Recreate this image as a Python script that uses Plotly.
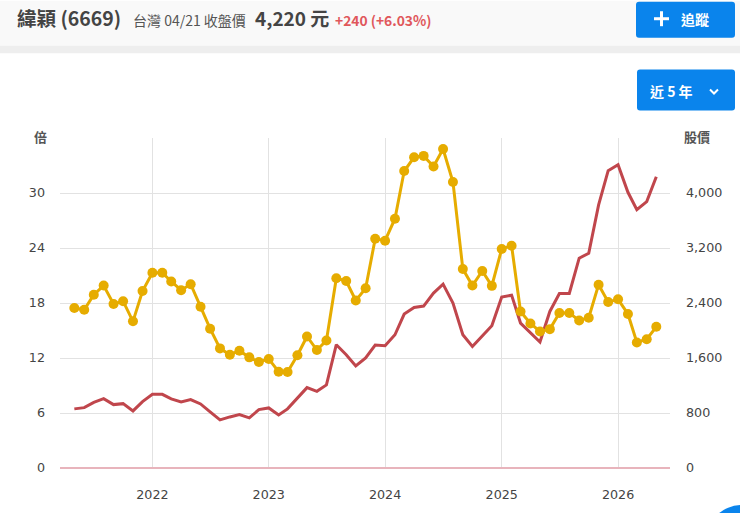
import pandas as pd
import plotly.graph_objects as go

months = pd.date_range("2021-05-01", "2026-05-01", freq="MS")

# 本益比 (倍)
pe_values = [17.45, 17.26, 18.9, 19.9, 17.9, 18.2, 16.0, 19.3,
             21.3, 21.3, 20.35, 19.4, 20.05, 17.6, 15.2, 13.05, 12.36, 12.8, 12.07, 11.56,
             11.9, 10.5, 10.47, 12.3, 14.35, 12.87, 13.9, 20.7, 20.4, 18.27, 19.6, 25.0,
             24.8, 27.2, 32.4, 33.9, 34.05, 32.9, 34.8, 31.2, 21.7, 19.9, 21.5, 19.87,
             23.9, 24.25, 17.07, 15.77, 14.9, 15.15, 16.9, 16.9, 16.1, 16.4, 20.0, 18.1,
             18.4, 16.8, 13.7, 14.05, 15.4]

# 股價
price_values = [860, 878, 955, 1009, 922, 936, 830, 966,
                1072, 1072, 1005, 961, 995, 932, 816, 700, 743, 777, 729, 849,
                874, 772, 860, 1009, 1169, 1115, 1208, 1793, 1648, 1484, 1600, 1789,
                1779, 1938, 2239, 2335, 2355, 2544, 2674, 2399, 1938, 1768, 1914, 2069,
                2486, 2514, 2108, 1963, 1832, 2277, 2538, 2538, 3052, 3124, 3826, 4324,
                4411, 4010, 3758, 3874, 4237]

pe_ticks = [0, 6, 12, 18, 24, 30, 36]
pe_labels = ["0", "6", "12", "18", "24", "30", ""]
price_ticks = [0, 800, 1600, 2400, 3200, 4000, 4800]
price_labels = ["0", "800", "1,600", "2,400", "3,200", "4,000", ""]
year_ticks = ["2022-01-01", "2023-01-01", "2024-01-01", "2025-01-01", "2026-01-01"]
year_labels = ["2022", "2023", "2024", "2025", "2026"]

CJK = "Noto Sans CJK TC"
TICK_FONT = dict(family="DejaVu Sans", size=12.7, color="#444444")
BLUE = "#0a84ec"
GRID = "#e2e2e2"

L, R, T, B = 60, 670, 137.6, 468.5


def px(x):
    return (x - L) / (R - L)


def py(y):
    return (B - y) / (B - T)


def label(x, y, text, size, color, bold=False, anchor="left", family=CJK):
    if bold:
        text = "<b>" + text + "</b>"
    fig.add_annotation(x=px(x), y=py(y), xref="paper", yref="paper", text=text, showarrow=False,
                       xanchor=anchor, yanchor="middle", align=anchor,
                       font=dict(family=family, size=size, color=color))


def box(x0, y0, x1, y1, color):
    fig.add_shape(type="rect", xref="paper", yref="paper", x0=px(x0), x1=px(x1), y0=py(y0), y1=py(y1),
                  fillcolor=color, line_width=0, layer="below")


def button(x0, y0, x1, y1):
    r = 3
    path = (f"M {px(x0 + r)} {py(y0)} L {px(x1 - r)} {py(y0)} Q {px(x1)} {py(y0)} {px(x1)} {py(y0 + r)} "
            f"L {px(x1)} {py(y1 - r)} Q {px(x1)} {py(y1)} {px(x1 - r)} {py(y1)} "
            f"L {px(x0 + r)} {py(y1)} Q {px(x0)} {py(y1)} {px(x0)} {py(y1 - r)} "
            f"L {px(x0)} {py(y0 + r)} Q {px(x0)} {py(y0)} {px(x0 + r)} {py(y0)} Z")
    fig.add_shape(type="path", xref="paper", yref="paper", path=path, fillcolor=BLUE, line_width=0)


fig = go.Figure()

# 股價 sits on the base axis so the yellow line stays on top
fig.add_trace(go.Scatter(x=months, y=price_values, mode="lines", name="股價", yaxis="y",
                         line=dict(color="#c0464c", width=3)))
fig.add_trace(go.Scatter(x=months, y=pe_values, mode="lines+markers", name="本益比", yaxis="y2",
                         line=dict(color="#e6ac00", width=3), marker=dict(color="#e6ac00", size=10)))

fig.update_layout(
    width=740, height=513, showlegend=False,
    margin=dict(l=L, r=740 - R, t=T, b=513 - B),
    paper_bgcolor="white", plot_bgcolor="white",
    xaxis=dict(type="date", range=["2021-03-17", "2026-06-13"], tickvals=year_ticks, ticktext=year_labels,
               showgrid=True, gridcolor=GRID, gridwidth=1, zeroline=False, showline=False,
               ticks="", tickfont=TICK_FONT, ticklabelstandoff=17),
    yaxis=dict(side="right", range=[0, 4800], tickvals=price_ticks, ticktext=price_labels,
               showgrid=True, gridcolor=GRID, gridwidth=1, zeroline=False, showline=False,
               ticks="", tickfont=TICK_FONT, ticklabelstandoff=15),
    yaxis2=dict(side="left", overlaying="y", range=[0, 36], tickvals=pe_ticks, ticktext=pe_labels,
                showgrid=False, zeroline=False, showline=False,
                ticks="", tickfont=TICK_FONT, ticklabelstandoff=14),
)

# pink baseline
fig.add_shape(type="line", xref="paper", yref="paper", x0=0, x1=1, y0=0, y1=0,
              line=dict(color="#e8b4bc", width=2))

# page header
box(0, 0, 740, 45, "#f9f9f9")
box(0, 45, 740, 52.5, "#eeeeee")
button(636, 1, 735, 37)
button(637, 69, 735, 110)

# plus and chevron of the two buttons
fig.add_shape(type="line", xref="paper", yref="paper", x0=px(654), x1=px(669), y0=py(18), y1=py(18),
              line=dict(color="white", width=3))
fig.add_shape(type="line", xref="paper", yref="paper", x0=px(661.5), x1=px(661.5), y0=py(10.5), y1=py(25.5),
              line=dict(color="white", width=3))
fig.add_shape(type="path", xref="paper", yref="paper",
              path=f"M {px(710)} {py(89)} L {px(714)} {py(93)} L {px(718)} {py(89)}",
              line=dict(color="white", width=2))

# round button cut by the window corner
fig.add_shape(type="circle", xref="paper", yref="paper", x0=px(706), x1=px(778), y0=py(505.5), y1=py(577.5),
              fillcolor=BLUE, line_width=0)

label(15, 17, "緯穎 (6669)", 19.5, "#444444", bold=True)
label(131, 19, "台灣 04/21 收盤價", 14, "#555555")
label(253, 17, "4,220 元", 19, "#444444", bold=True)
label(333, 19, "+240 (+6.03%)", 13.8, "#e0575b", bold=True)
label(679, 18, "追蹤", 14, "white", bold=True)
label(648, 90, "近 5 年", 14, "white", bold=True)
label(40, 136, "倍", 13, "#555555", bold=True, anchor="center")
label(697, 136, "股價", 13, "#555555", bold=True, anchor="center")

fig.write_html("out.html", config=dict(displayModeBar=False), post_script="document.body.style.margin='0';")
